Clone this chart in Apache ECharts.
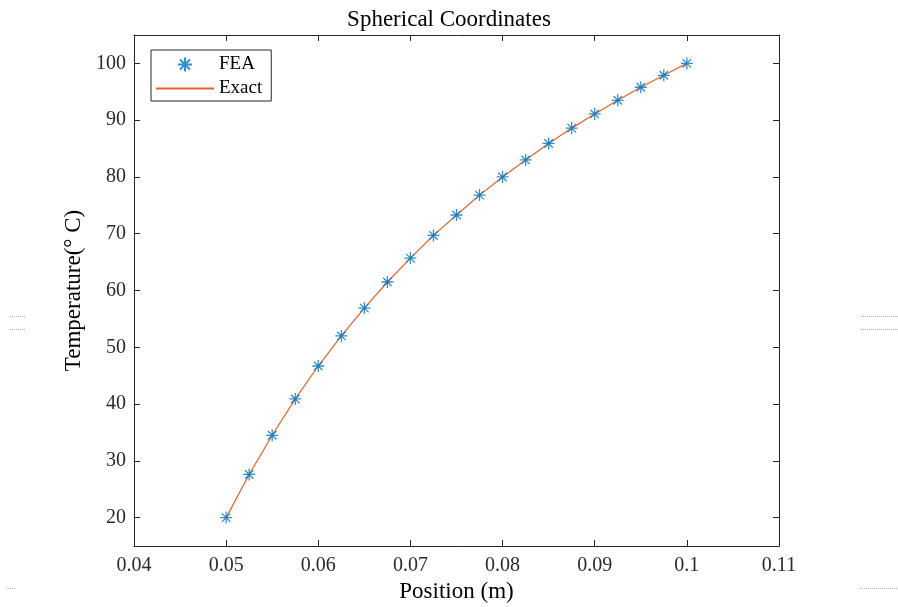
<!DOCTYPE html>
<html><head><meta charset="utf-8">
<script src="https://cdn.jsdelivr.net/npm/echarts@6/dist/echarts.min.js"></script>
<style>html,body{margin:0;padding:0;background:#fff}#c{width:898px;height:607px}</style>
</head><body><div id="c"></div>
<script>
const positions = [0.05,0.0525,0.055,0.0575,0.06,0.0625,0.065,0.0675,0.07,0.0725,0.075,0.0775,0.08,0.0825,0.085,0.0875,0.09,0.0925,0.095,0.0975,0.1];
const feaTemps = [20,27.6,34.5,40.9,46.7,52.0,56.9,61.5,65.7,69.7,73.3,76.8,80.0,83.0,85.9,88.6,91.1,93.5,95.8,97.9,100];
const exactTemps = [20,27.6,34.5,40.9,46.7,52.0,56.9,61.5,65.7,69.7,73.3,76.8,80.0,83.0,85.9,88.6,91.1,93.5,95.8,97.9,100];
const xTicks = [0.04,0.05,0.06,0.07,0.08,0.09,0.1,0.11];
const yTicks = [20,30,40,50,60,70,80,90,100];

const font = 'Liberation Serif';
const axisCol = '#262626';
const star = 'path://M0,-10L0,10M-10,0L10,0M-7.07,-7.07L7.07,7.07M-7.07,7.07L7.07,-7.07';

const chart = echarts.init(document.getElementById('c'));
const xBase = {type:'value', min:0.04, max:0.11, interval:0.01,
  axisLine:{show:true, lineStyle:{color:axisCol, width:1}},
  splitLine:{show:false}};
const yBase = {type:'value', min:15, max:105,
  axisLine:{show:true, lineStyle:{color:axisCol, width:1}},
  splitLine:{show:false}};
chart.setOption({
  animation:false,
  title:{text:'Spherical Coordinates', left:'center', top:3,
    textStyle:{fontFamily:font, fontSize:23, fontWeight:'normal', color:'#000'}},
  grid:{left:134, right:119, top:35, bottom:61, containLabel:false, outerBoundsMode:'none'},
  legend:{left:151, top:50, orient:'vertical', itemWidth:58, itemHeight:14, itemGap:5,
    padding:[5,9,3,4], borderColor:axisCol, borderWidth:1, backgroundColor:'#fff',
    textStyle:{fontFamily:font, fontSize:19, color:'#000'},
    data:[{name:'FEA'},{name:'Exact', itemStyle:{opacity:0}}]},
  xAxis:[
    Object.assign({}, xBase, {position:'bottom', name:'Position (m)', nameLocation:'middle', nameGap:33,
      nameTextStyle:{fontFamily:font, fontSize:23, color:'#000'},
      axisTick:{show:true, inside:true, length:6, lineStyle:{color:axisCol}},
      axisLabel:{fontFamily:font, fontSize:20, color:'#2a2a2a', margin:10,
        formatter:v=>String(+v.toFixed(2))}}),
    Object.assign({}, xBase, {position:'top',
      axisTick:{show:true, inside:true, length:6, lineStyle:{color:axisCol}},
      axisLabel:{show:false}})
  ],
  yAxis:[
    Object.assign({}, yBase, {position:'left', name:'Temperature(° C)', nameLocation:'middle', nameGap:40,
      nameTextStyle:{fontFamily:font, fontSize:23, color:'#000'},
      axisTick:{show:true, inside:true, length:6, lineStyle:{color:axisCol}, customValues:yTicks},
      axisLabel:{fontFamily:font, fontSize:20, color:'#2a2a2a', margin:8, customValues:yTicks}}),
    Object.assign({}, yBase, {position:'right',
      axisTick:{show:true, inside:true, length:6, lineStyle:{color:axisCol}, customValues:yTicks},
      axisLabel:{show:false}})
  ],
  series:[
    {name:'Exact', type:'line', symbol:'none', z:2,
      lineStyle:{color:'#E0622A', width:1.2}, itemStyle:{color:'#E0622A'},
      data:positions.map((x,i)=>[x, exactTemps[i]])},
    {name:'FEA', type:'scatter', symbol:star, symbolSize:12, z:3,
      itemStyle:{color:'none', borderColor:'#0072BD', borderWidth:1.3},
      data:positions.map((x,i)=>[x, feaTemps[i]])}
  ],
  graphic:[
    {type:'line', shape:{x1:10,y1:316.5,x2:25,y2:316.5}, style:{stroke:'#aaa', lineDash:[1,1], lineWidth:1}},
    {type:'line', shape:{x1:10,y1:329.5,x2:25,y2:329.5}, style:{stroke:'#aaa', lineDash:[1,1], lineWidth:1}},
    {type:'line', shape:{x1:861,y1:316.5,x2:898,y2:316.5}, style:{stroke:'#aaa', lineDash:[1,1], lineWidth:1}},
    {type:'line', shape:{x1:861,y1:329.5,x2:898,y2:329.5}, style:{stroke:'#aaa', lineDash:[1,1], lineWidth:1}},
    {type:'line', shape:{x1:6,y1:588.5,x2:16,y2:588.5}, style:{stroke:'#aaa', lineDash:[1,1], lineWidth:1}},
    {type:'line', shape:{x1:860,y1:588.5,x2:898,y2:588.5}, style:{stroke:'#aaa', lineDash:[1,1], lineWidth:1}}
  ]
});
</script></body></html>
